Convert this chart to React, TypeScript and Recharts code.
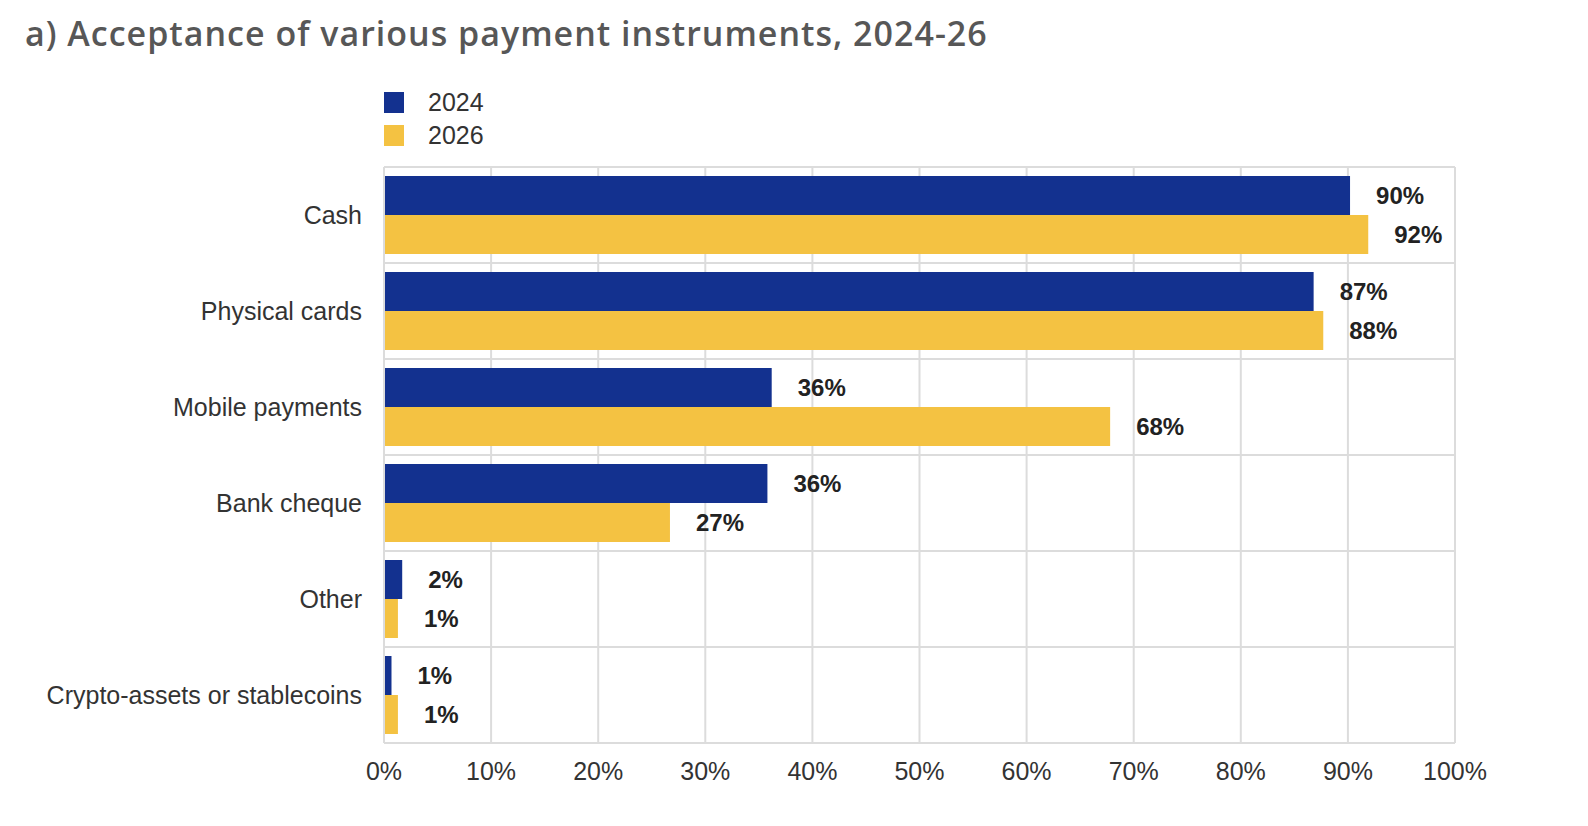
import { BarChart, Bar, XAxis, YAxis, CartesianGrid, Legend, LabelList } from 'recharts';

const CATEGORIES = ['Cash', 'Physical cards', 'Mobile payments', 'Bank cheque', 'Other', 'Crypto-assets or stablecoins'];
const VALUES_2024 = [90.2, 86.8, 36.2, 35.8, 1.7, 0.7];
const VALUES_2026 = [91.9, 87.7, 67.8, 26.7, 1.3, 1.3];
const X_TICKS = [0, 10, 20, 30, 40, 50, 60, 70, 80, 90, 100];

const BLUE = '#13318f';
const YELLOW = '#f4c242';
const GRID = '#dcdcdc';
const FONT = '"Liberation Sans", Arial, sans-serif';

const chartData = CATEGORIES.map((name, i) => ({
  name,
  y2024: VALUES_2024[i],
  y2026: VALUES_2026[i],
}));

const LegendBox = () => (
  <div style={{ fontFamily: FONT, fontSize: 25, color: '#333' }}>
    {[
      { label: '2024', color: BLUE },
      { label: '2026', color: YELLOW },
    ].map((item) => (
      <div key={item.label} style={{ display: 'flex', alignItems: 'center', height: 33 }}>
        <span style={{ width: 20, height: 21, background: item.color, display: 'inline-block', marginRight: 24 }} />
        <span>{item.label}</span>
      </div>
    ))}
  </div>
);

export default function App() {
  // grid lines sit on the category band edges, not the band centres
  const bandLines = ({ offset }: any) =>
    CATEGORIES.map((_, i) => offset.top + (offset.height / CATEGORIES.length) * i).concat(offset.top + offset.height);

  return (
    <div style={{ position: 'absolute', left: 0, top: 0, width: 1588, height: 826, background: '#fff' }}>
      <div
        style={{
          position: 'absolute',
          left: 25,
          top: 11,
          fontFamily: '"Open Sans", sans-serif',
          fontWeight: 600,
          fontSize: 34,
          letterSpacing: 1,
          lineHeight: '44px',
          color: '#575757',
          whiteSpace: 'nowrap',
        }}
      >
        a) Acceptance of various payment instruments, 2024-26
      </div>
      <BarChart
        width={1588}
        height={826}
        data={chartData}
        layout="vertical"
        margin={{ top: 167, right: 133, bottom: 0, left: 0 }}
        barCategoryGap={9}
        barGap={0}
        style={{ position: 'absolute', left: 0, top: 0 }}
      >
        <CartesianGrid stroke={GRID} strokeWidth={2} horizontalCoordinatesGenerator={bandLines} />
        <XAxis
          type="number"
          domain={[0, 100]}
          ticks={X_TICKS}
          tickFormatter={(v) => `${v}%`}
          height={83}
          tickLine={false}
          tickSize={0}
          tickMargin={19}
          axisLine={{ stroke: GRID, strokeWidth: 2 }}
          tick={{ fontFamily: FONT, fontSize: 25, fill: '#333' }}
        />
        <YAxis
          type="category"
          dataKey="name"
          width={384}
          tickLine={false}
          tickSize={0}
          tickMargin={22}
          axisLine={{ stroke: GRID, strokeWidth: 2 }}
          tick={{ fontFamily: FONT, fontSize: 25, fill: '#333' }}
        />
        <Legend
          layout="vertical"
          align="center"
          verticalAlign="middle"
          content={<LegendBox />}
          wrapperStyle={{ top: 86, left: 384, width: 200, height: 70 }}
        />
        <Bar dataKey="y2024" name="2024" fill={BLUE} isAnimationActive={false}>
          <LabelList
            dataKey="y2024"
            position="right"
            offset={26}
            formatter={(v: any) => `${Math.round(v)}%`}
            style={{ fontFamily: FONT, fontSize: 24, fontWeight: 700, fill: '#222' }}
          />
        </Bar>
        <Bar dataKey="y2026" name="2026" fill={YELLOW} isAnimationActive={false}>
          <LabelList
            dataKey="y2026"
            position="right"
            offset={26}
            formatter={(v: any) => `${Math.round(v)}%`}
            style={{ fontFamily: FONT, fontSize: 24, fontWeight: 700, fill: '#222' }}
          />
        </Bar>
      </BarChart>
    </div>
  );
}
